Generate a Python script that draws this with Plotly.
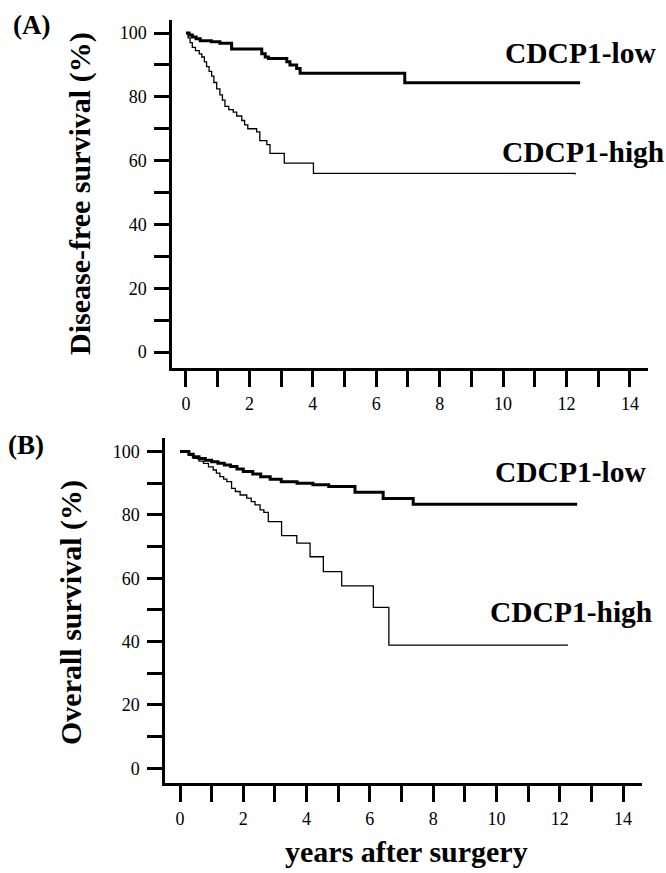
import plotly.graph_objects as go

W, H = 666, 873

# ---------------- data ----------------
# Panel A: disease-free survival (%), years after surgery
dfs_low_t = [0, 0.1, 0.2, 0.32, 0.45, 0.8, 1.07, 1.44, 2.39, 2.5, 2.6, 3.18, 3.28, 3.49, 3.6, 6.9, 12.43]
dfs_low_v = [100, 99.4, 98.8, 98.2, 97.6, 97.3, 96.8, 95.0, 93.5, 92.5, 92.0, 91.0, 90.0, 88.9, 87.4, 84.4, 84.4]

dfs_high_t = [0, 0.07, 0.13, 0.2, 0.3, 0.42, 0.5, 0.58, 0.65, 0.73, 0.81, 0.88, 0.97, 1.07, 1.15, 1.23,
              1.35, 1.49, 1.6, 1.76, 1.85, 1.95, 2.23, 2.33, 2.55, 2.65, 3.1, 4.02, 12.27]
dfs_high_v = [100, 98.5, 97.0, 95.5, 94.5, 93.5, 92.5, 91.0, 89.5, 88.0, 86.5, 84.5, 82.5, 80.6, 79.0, 77.0,
              76.0, 75.2, 74.0, 72.6, 71.2, 70.0, 69.0, 66.3, 65.0, 62.3, 59.2, 56.0, 55.7]

# Panel B: overall survival (%)
os_low_t = [0, 0.28, 0.42, 0.6, 0.8, 1.0, 1.2, 1.4, 1.6, 1.8, 2.0, 2.3, 2.55, 2.85, 3.2, 3.7, 4.2, 4.7,
            5.53, 6.42, 7.37, 12.55]
os_low_v = [100, 99.2, 98.4, 97.8, 97.3, 96.8, 96.3, 95.8, 95.3, 94.5, 93.7, 92.9, 92.1, 91.3, 90.5,
            90.0, 89.5, 89.0, 87.2, 85.2, 83.4, 83.4]

os_high_t = [0, 0.28, 0.42, 0.6, 0.74, 0.9, 1.05, 1.15, 1.26, 1.38, 1.48, 1.63, 1.75, 1.9, 2.11, 2.25,
             2.37, 2.53, 2.65, 2.79, 3.21, 3.69, 4.11, 4.53, 5.11, 6.11, 6.6, 12.26]
os_high_v = [100, 98.8, 97.9, 97.0, 96.3, 95.2, 94.2, 93.2, 92.1, 91.3, 90.5, 88.4, 87.4, 86.3, 85.3,
             84.2, 83.2, 81.6, 80.8, 77.9, 73.5, 71.1, 66.8, 62.1, 57.6, 50.8, 38.9, 38.9]

x_ticks = list(range(0, 15))
x_ticktext = [str(v) if v % 2 == 0 else "" for v in x_ticks]
y_ticks = list(range(0, 101, 10))
y_ticktext = [str(v) if v % 20 == 0 else "" for v in y_ticks]

series_names = ["CDCP1-low", "CDCP1-high"]
y_titles = ["Disease-free survival (%)", "Overall survival (%)"]
panel_tags = ["(A)", "(B)"]
x_title = "years after surgery"

# ---------------- figure ----------------
SERIF = "Liberation Serif"
fig = go.Figure()

fig.add_trace(go.Scatter(x=dfs_low_t, y=dfs_low_v, mode="lines", line=dict(shape="hv", color="black", width=3),
                         xaxis="x", yaxis="y", showlegend=False))
fig.add_trace(go.Scatter(x=dfs_high_t, y=dfs_high_v, mode="lines", line=dict(shape="hv", color="black", width=1.3),
                         xaxis="x", yaxis="y", showlegend=False))
fig.add_trace(go.Scatter(x=os_low_t, y=os_low_v, mode="lines", line=dict(shape="hv", color="black", width=3),
                         xaxis="x2", yaxis="y2", showlegend=False))
fig.add_trace(go.Scatter(x=os_high_t, y=os_high_v, mode="lines", line=dict(shape="hv", color="black", width=1.3),
                         xaxis="x2", yaxis="y2", showlegend=False))


def px_x(p):
    return p / W


def px_y(p):
    return (H - p) / H


def xaxis_cfg(left, right, rng, anchor):
    return dict(domain=[px_x(left), px_x(right)], range=rng, anchor=anchor,
                tickmode="array", tickvals=x_ticks, ticktext=x_ticktext,
                ticks="outside", ticklen=16, tickwidth=2.5, tickcolor="black",
                showline=True, linecolor="black", linewidth=2.5,
                showgrid=False, zeroline=False, automargin=False,
                ticklabelstandoff=2,
                tickfont=dict(family=SERIF, size=18, color="black"))


def yaxis_cfg(top, bottom, rng, anchor):
    return dict(domain=[px_y(bottom), px_y(top)], range=rng, anchor=anchor,
                tickmode="array", tickvals=y_ticks, ticktext=y_ticktext,
                ticks="outside", ticklen=15, tickwidth=2.5, tickcolor="black",
                showline=True, linecolor="black", linewidth=2.5,
                showgrid=False, zeroline=False, automargin=False,
                ticklabelstandoff=4,
                tickfont=dict(family=SERIF, size=18, color="black"))


ann = []
# curve labels
for txt, x, y in [(series_names[0], 503, 53), (series_names[1], 500, 152),
                  (series_names[0], 493, 472), (series_names[1], 488, 612)]:
    ann.append(dict(text="<b>%s</b>" % txt, x=px_x(x), y=px_y(y), xref="paper", yref="paper",
                    xanchor="left", yanchor="middle", showarrow=False,
                    font=dict(family=SERIF, size=29.5, color="black")))
# y titles
for txt, x, y in [(y_titles[0], 80, 194), (y_titles[1], 71, 613)]:
    ann.append(dict(text="<b>%s</b>" % txt, x=px_x(x), y=px_y(y), xref="paper", yref="paper",
                    xanchor="center", yanchor="middle", textangle=-90, showarrow=False,
                    font=dict(family=SERIF, size=30, color="black")))
# panel tags
for txt, x, y in [(panel_tags[0], 31, 25), (panel_tags[1], 26, 445)]:
    ann.append(dict(text="<b>%s</b>" % txt, x=px_x(x), y=px_y(y), xref="paper", yref="paper",
                    xanchor="center", yanchor="middle", showarrow=False,
                    font=dict(family=SERIF, size=27, color="black")))
# x title
ann.append(dict(text="<b>%s</b>" % x_title, x=px_x(406), y=px_y(851), xref="paper", yref="paper",
                xanchor="center", yanchor="middle", showarrow=False,
                font=dict(family=SERIF, size=30, color="black")))

fig.update_layout(
    template="none",
    width=W, height=H,
    margin=dict(l=0, r=0, t=0, b=0),
    paper_bgcolor="white", plot_bgcolor="white",
    showlegend=False,
    xaxis=xaxis_cfg(172, 648, [-0.44, 14.57], "y"),
    yaxis=yaxis_cfg(20, 368, [-5.0, 104.1], "x"),
    xaxis2=xaxis_cfg(165, 642, [-0.474, 14.6], "y2"),
    yaxis2=yaxis_cfg(438, 783, [-4.64, 104.3], "x2"),
    annotations=ann,
)

fig.write_html("out.html",
               config={"displayModeBar": False},
               post_script="document.body.style.margin='0';document.body.style.padding='0';"
                           "document.body.style.overflow='hidden';"
                           "document.documentElement.style.overflow='hidden';")
